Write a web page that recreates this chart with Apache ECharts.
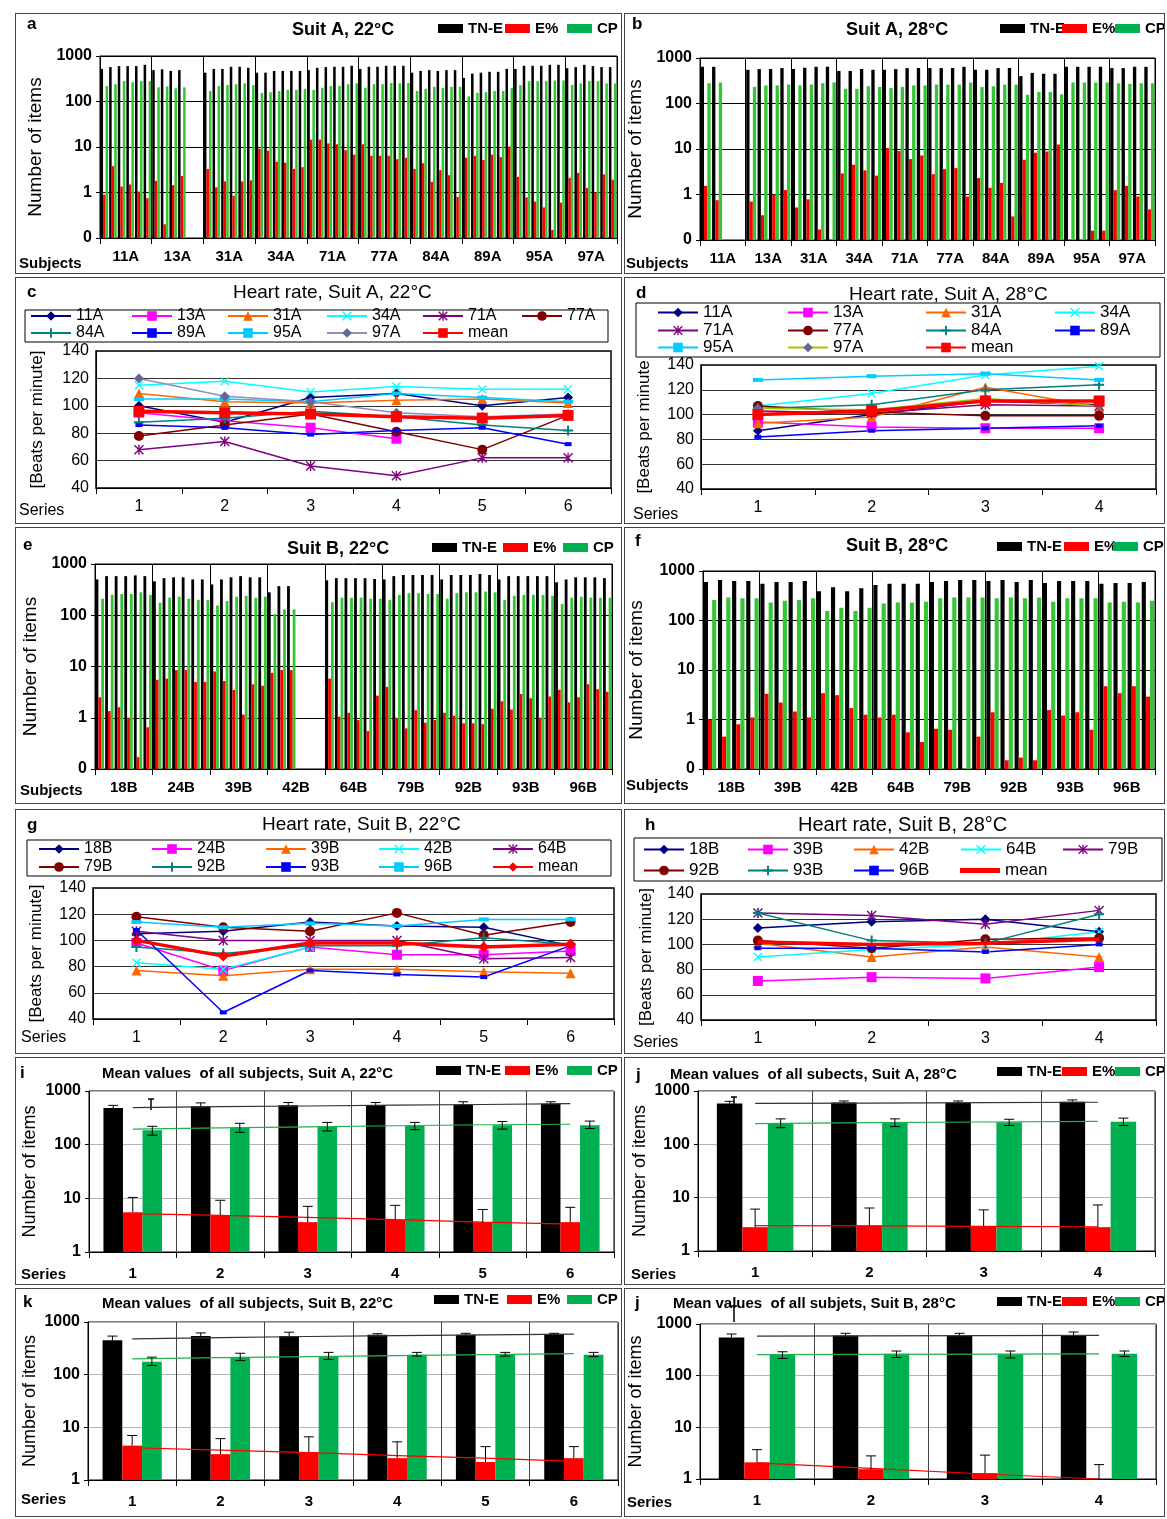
<!DOCTYPE html>
<html>
<head>
<meta charset="utf-8">
<title>Suit A / Suit B</title>
<script src="https://cdn.jsdelivr.net/npm/echarts@6/dist/echarts.min.js"></script>
<style>
  html, body { margin: 0; padding: 0; background: #fff; }
  body { position: relative; width: 1167px; height: 1519px; overflow: hidden; }
</style>
</head>
<body>
<script>
// ---------------- data ----------------
const subjA = ['11A', '13A', '31A', '34A', '71A', '77A', '84A', '89A', '95A', '97A'];
const subjB22 = ['18B', '24B', '39B', '42B', '64B', '79B', '92B', '93B', '96B'];
const subjB28 = ['18B', '39B', '42B', '64B', '79B', '92B', '93B', '96B'];

// a: Suit A 22°C, 6 sessions per subject
const aTne = [520,570,600,600,600,640, 490,510,470,490,null,null, 430,520,520,580,580,550, 430,430,470,470,470,470,
  490,550,570,580,580,610, 520,580,580,610,610,610, 430,470,490,470,490,490, 330,410,430,450,450,520,
  520,610,610,610,640,640, 540,570,640,600,570,570];
const aE = [0.9,3.8,1.35,1.5,1.05,0.75, 1.8,0.2,1.45,2.3,null,null, 3.3,1.3,1.75,0.85,1.75,1.85, 9.2,8.3,4.7,4.5,3.3,3.6,
  14.5,14.5,12,11.5,8.5,6.8, 11.5,6.4,6.4,6.4,5.4,5.8, 3.3,4.4,1.7,3.1,2.4,0.8, 5.8,6.4,5.2,6.8,6.0,10.2,
  2.2,0.78,0.63,0.47,0.15,0.6, 2.1,2.7,1.25,1.0,2.5,1.9];
const aCp = [220,240,280,265,280,280, 205,215,195,205,null,null, 170,220,230,240,250,230, 155,160,170,180,180,190,
  180,200,220,220,240,250, 200,240,240,255,250,255, 170,190,210,200,210,210, 130,155,160,170,170,200,
  230,280,280,280,290,290, 230,250,280,280,250,250];

// b: Suit A 28°C, 4 sessions per subject
const bTne = [640,640,null,null, 550,570,570,600, 570,610,640,640, 520,520,570,550, 550,570,600,600,
  600,600,600,640, 550,550,600,600, 400,470,450,450, 640,640,640,640, 600,600,640,640];
const bE = [1.55,0.75,null,null, 0.7,0.35,1.0,1.25, 0.52,0.78,0.17,null, 2.9,4.5,3.4,2.6, 10.5,9.0,6.0,7.2,
  2.8,3.6,3.8,0.9, 2.3,1.4,1.8,0.33, 5.8,8.3,8.8,12.5, null,null,0.16,0.16, 1.25,1.55,0.9,0.47];
const bCp = [280,290,null,null, 230,250,250,260, 250,260,280,290, 210,210,240,230, 220,230,250,250,
  260,260,260,290, 230,240,260,260, 155,180,180,160, 290,290,290,290, 280,270,280,280];

// e: Suit B 22°C, 6 sessions per subject
const eTne = [500,580,580,580,600,580, 460,530,550,550,500,500, 400,500,550,580,550,550, 280,370,370,null,null,null,
  480,530,530,530,530,510, 500,580,610,610,610,610, 500,610,610,610,640,610, 500,580,580,580,580,580,
  440,500,550,550,550,530];
const eE = [2.5,1.35,1.6,1.0,0.17,0.65, 5.5,5.8,8.5,8.5,5.0,5.0, 8.0,5.2,3.5,1.15,4.5,4.2, 7.5,8.5,8.5,null,null,null,
  5.8,1.05,1.25,0.9,0.55,2.7, 4.0,1.0,0.62,1.4,0.8,0.9, 1.25,1.1,0.78,0.78,0.75,1.5, 2.1,1.45,2.9,2.4,1.0,2.6,
  3.5,2.0,2.5,4.5,3.6,3.2];
const eCp = [210,250,260,260,280,250, 175,220,230,210,200,200, 155,190,230,240,220,230, 105,130,130,null,null,null,
  180,220,220,220,210,210, 200,250,270,270,260,260, 210,270,280,280,290,280, 200,240,250,250,250,240,
  165,220,230,220,220,220];

// f: Suit B 28°C, 4 sessions per subject
const fTne = [600,660,630,630, 550,600,600,630, 390,470,390,450, 520,550,550,550, 600,630,660,660,
  630,660,600,660, 570,630,630,630, 550,570,570,600];
const fE = [1.0,0.45,0.8,1.1, 3.3,2.2,1.45,1.1, 3.4,3.1,1.7,1.25, 1.1,1.25,0.55,0.35, 0.65,0.62,null,0.45,
  1.4,0.15,0.17,0.15, 1.55,1.2,1.4,0.62, 4.7,3.4,4.7,2.9];
const fCp = [260,290,280,280, 230,250,260,280, 155,180,155,180, 220,230,230,240, 280,290,290,290,
  280,290,280,290, 240,280,280,280, 230,240,230,250];

// c: heart rate, Suit A 22°C
const series6 = ['1', '2', '3', '4', '5', '6'];
const series4 = ['1', '2', '3', '4'];
const c11A = [100, 88, 106, 109, 100, 106];
const c13A = [95, 89, 84, 76, null, null];
const c31A = [109, 103, 102, 104, 105, 102];
const c34A = [115, 118, 110, 114, 112, 112];
const c71A = [68, 74, 56, 49, 62, 62];
const c77A = [78, 86, 94, 81, 68, 93];
const c84A = [88, 91, 96, 92, 86, 82];
const c89A = [86, 84, 79, 82, 84, 72];
const c95A = [105, 105, 103, 109, 106, 103];
const c97A = [120, 107, 103, 95, 92, 94];
const cMean = [96, 95, 94, 92, 91, 93];

// d: heart rate, Suit A 28°C
const d11A = [87, 100, 111, 108];
const d13A = [94, 90, 89, 89];
const d31A = [93, 98, 122, 106];
const d34A = [107, 117, 132, 139];
const d71A = [103, 101, 108, 107];
const d77A = [107, 102, 99, 99];
const d84A = [105, 108, 120, 124];
const d89A = [82, 87, 89, 91];
const d95A = [128, 131, 133, 128];
const d97A = [105, 104, 113, 107];
const dMean = [100, 103, 111, 111];

// g: heart rate, Suit B 22°C
const g18B = [105, 107, 114, 111, 110, 96];
const g24B = [98, 77, 95, 89, 89, 92];
const g39B = [77, 73, 78, 78, 76, 75];
const g42B = [83, 78, 95, null, null, null];
const g64B = [107, 100, 100, 100, 86, 87];
const g79B = [118, 110, 107, 121, 104, 114];
const g92B = [95, 90, 96, 96, 102, 97];
const g93B = [108, 45, 77, 74, 72, 96];
const g96B = [114, 110, 113, 111, 116, 116];
const gMean = [100, 88, 98, 98, 95, 97];

// h: heart rate, Suit B 28°C
const h18B = [113, 118, 120, 110];
const h39B = [71, 74, 73, 82];
const h42B = [101, 90, 98, 90];
const h64B = [90, 96, 100, 110];
const h79B = [125, 123, 116, 127];
const h92B = [103, 97, 104, 105];
const h93B = [125, 103, 101, 124];
const h96B = [97, 97, 94, 100];
const hMean = [102, 100, 101, 104];

// i: means, Suit A 22°C
const iTn = [480, 520, 540, 540, 560, 580], iTnHi = [540, 600, 610, 610, 630, 630];
const iE = [5.5, 4.8, 3.6, 4.0, 3.6, 3.6], iEHi = [10.4, 9.2, 7.1, 7.4, 6.2, 6.8];
const iCp = [185, 210, 215, 225, 230, 230], iCpHi = [220, 250, 260, 260, 270, 275], iCpLo = [150, 170, 180, 190, 195, 200];
const iTnTrend = [490, 510, 525, 545, 560, 580], iETrend = [5.2, 4.8, 4.4, 4.0, 3.6, 3.3], iCpTrend = [195, 205, 215, 225, 235, 240];

// j: means, Suit A 28°C
const jTn = [580, 610, 600, 630], jTnHi = [640, 650, 650, 680];
const jE = [2.8, 3.0, 2.9, 2.8], jEHi = [6.1, 6.4, 5.9, 7.3];
const jCp = [250, 260, 260, 265], jCpHi = [300, 300, 295, 310], jCpLo = [205, 215, 225, 225];
const jTnTrend = [585, 595, 605, 615], jETrend = [3.0, 2.95, 2.9, 2.85], jCpTrend = [245, 255, 262, 270];

// k: means, Suit B 22°C
const kTn = [450, 540, 540, 570, 570, 590], kTnHi = [540, 620, 640, 600, 610, 610];
const kE = [4.5, 3.1, 3.4, 2.6, 2.2, 2.6], kEHi = [7.0, 6.1, 6.6, 5.3, 4.3, 4.3];
const kCp = [175, 215, 225, 240, 245, 240], kCpHi = [215, 255, 265, 265, 265, 265], kCpLo = [150, 185, 195, 225, 225, 220];
const kTnTrend = [480, 505, 530, 550, 570, 590], kETrend = [4.1, 3.7, 3.3, 2.9, 2.6, 2.25], kCpTrend = [200, 210, 220, 230, 240, 250];

// l: means, Suit B 28°C
const lTn = [550, 600, 600, 600], lTnHi = [640, 660, 660, 700];
const lE = [2.1, 1.55, 1.3, 1.0], lEHi = [3.7, 2.8, 2.9, 1.9];
const lCp = [255, 265, 260, 265], lCpHi = [290, 300, 300, 300], lCpLo = [215, 225, 220, 235];
const lTnTrend = [580, 590, 595, 600], lETrend = [2.05, 1.6, 1.25, 1.0], lCpTrend = [255, 258, 262, 265];

// ---------------- layout (page px) ----------------
const FONT = "'Liberation Sans', Arial, sans-serif";
const GREEN = '#00B050';
const LIGHT_GREEN = '#36C536';
const BOX = {
  a: [15, 13, 607, 261], b: [624, 13, 541, 261],
  c: [15, 277, 607, 247], d: [624, 277, 541, 247],
  e: [15, 527, 607, 277], f: [624, 527, 541, 277],
  g: [15, 809, 607, 245], h: [624, 809, 541, 245],
  i: [15, 1057, 607, 228], j: [624, 1057, 541, 228],
  k: [15, 1288, 607, 229], l: [624, 1288, 541, 229]
};
// plot area: x0, x1, y0, y1
const PLOT = {
  a: [100, 617, 56, 238], b: [700, 1155, 58, 240],
  c: [96, 611, 351, 488], d: [701, 1156, 365, 489],
  e: [95, 612, 564, 769], f: [703, 1155, 571, 769],
  g: [93, 614, 888, 1019], h: [701, 1156, 894, 1020],
  i: [89, 614, 1091, 1252], j: [698, 1155, 1091, 1251],
  k: [88, 618, 1322, 1480], l: [700, 1156, 1324, 1479]
};

function mk(key) {
  const b = BOX[key];
  const el = document.createElement('div');
  el.style.cssText = 'position:absolute;left:' + b[0] + 'px;top:' + b[1] + 'px;width:' + b[2] + 'px;height:' + b[3] +
    'px;border:1px solid #444;box-sizing:border-box;';
  document.body.appendChild(el);
  return echarts.init(el);
}
function gridOf(key) {
  const b = BOX[key], p = PLOT[key];
  return { left: p[0] - b[0] - 1, top: p[2] - b[1] - 1, width: p[1] - p[0], height: p[3] - p[2],
    outerBoundsMode: 'none', containLabel: false };
}
// text at page coords (left edge, vertical centre)
function T(key, x, y, s, size, weight) {
  const b = BOX[key];
  return { type: 'text', x: x - b[0] - 1, y: y - b[1] - 1, silent: true,
    style: { text: s, fontSize: size, fontWeight: weight || 'normal', fontFamily: FONT, fill: '#000',
      verticalAlign: 'middle', align: 'left' } };
}
// vertical text, centred on page coords
function V(key, x, y, s, size) {
  const b = BOX[key];
  return { type: 'text', x: x - b[0] - 1, y: y - b[1] - 1, rotation: Math.PI / 2, silent: true,
    style: { text: s, fontSize: size, fontFamily: FONT, fill: '#000', verticalAlign: 'middle', align: 'center' } };
}
function R(key, x0, y0, x1, y1) {
  const b = BOX[key];
  return { type: 'rect', silent: true, z: -1,
    shape: { x: x0 - b[0] - 1, y: y0 - b[1] - 1, width: x1 - x0, height: y1 - y0 },
    style: { fill: 'none', stroke: '#000', lineWidth: 1 } };
}
// small stray error-bar mark seen in the mean panels
function I(key, x, y0, y1) {
  const b = BOX[key], st = { stroke: '#000', lineWidth: 1.5 };
  return { type: 'group', silent: true, children: [
    { type: 'line', shape: { x1: x - b[0] - 1, y1: y0 - b[1] - 1, x2: x - b[0] - 1, y2: y1 - b[1] - 1 }, style: st },
    { type: 'line', shape: { x1: x - b[0] - 4, y1: y0 - b[1] - 1, x2: x - b[0] + 2, y2: y0 - b[1] - 1 }, style: st }
  ] };
}
function barLegend(key, xs, yc) {
  const b = BOX[key];
  return ['TN-E', 'E%', 'CP'].map((n, i) => ({
    data: [n], left: xs[i] - b[0] - 1, top: yc - b[1] - 10, padding: 0, itemGap: 0,
    icon: 'rect', itemWidth: 25, itemHeight: 9,
    itemStyle: n === 'CP' ? { color: GREEN } : {},
    textStyle: { fontSize: 15, fontWeight: 'bold', color: '#000', fontFamily: FONT }
  }));
}
function logAxis(min, gap, nameSize) {
  return {
    type: 'log', logBase: 10, min: min, max: 1000, startValue: min,
    name: gap ? 'Number of items' : '', nameLocation: 'middle', nameGap: gap,
    nameTextStyle: { fontSize: nameSize, color: '#000', fontFamily: FONT },
    axisLine: { show: true, lineStyle: { color: '#000' } },
    axisTick: { show: true, length: 4, lineStyle: { color: '#000' } },
    axisLabel: { fontSize: 16, fontWeight: 'bold', color: '#000', fontFamily: FONT, margin: 8,
      formatter: v => (v < 0.5 ? '0' : String(Math.round(v))) },
    splitLine: { show: true, lineStyle: { color: min < 1 ? '#000' : '#b4b4b4' } }
  };
}

// ---------------- bar panels (per subject sessions) ----------------
function barPanel(key, o) {
  const ch = mk(key);
  const sessions = o.tne.map((_, i) => 's' + i);
  const bar = (name, data, color) => ({ type: 'bar', name: name, data: data, itemStyle: { color: color },
    barGap: '0%', barCategoryGap: '12%', xAxisIndex: 0 });
  ch.setOption({
    animation: false,
    grid: Object.assign(gridOf(key), { show: true, borderColor: '#000', borderWidth: 1 }),
    legend: barLegend(key, o.legX, o.legY),
    xAxis: [
      { type: 'category', data: sessions, position: 'bottom', axisLine: { lineStyle: { color: '#000' } },
        axisTick: { show: false }, axisLabel: { show: false } },
      { type: 'category', data: o.subjects, position: 'bottom', axisLine: { show: false },
        axisTick: { show: true, length: 6, interval: 0, lineStyle: { color: '#000' } },
        axisLabel: { interval: 0, fontSize: 15, fontWeight: 'bold', color: '#000', fontFamily: FONT, margin: 11 },
        splitLine: { show: true, interval: 0, lineStyle: { color: '#000' } } }
    ],
    yAxis: logAxis(0.1, o.nameGap, 19),
    series: [bar('TN-E', o.tne, '#000'), bar('E%', o.e, '#ff0000'), bar('CP', o.cp, LIGHT_GREEN)],
    graphic: o.texts
  });
}

barPanel('a', { subjects: subjA, tne: aTne, e: aE, cp: aCp, legX: [438, 505, 567], legY: 30, nameGap: 52,
  texts: [T('a', 27, 24, 'a', 17, 'bold'), T('a', 292, 30, 'Suit A, 22°C', 18, 'bold'), T('a', 19, 264, 'Subjects', 15, 'bold')] });
barPanel('b', { subjects: subjA, tne: bTne, e: bE, cp: bCp, legX: [1000, 1062, 1115], legY: 30, nameGap: 53,
  texts: [T('b', 632, 24, 'b', 17, 'bold'), T('b', 846, 30, 'Suit A, 28°C', 18, 'bold'), T('b', 626, 264, 'Subjects', 15, 'bold')] });
barPanel('e', { subjects: subjB22, tne: eTne, e: eE, cp: eCp, legX: [432, 503, 563], legY: 549, nameGap: 55,
  texts: [T('e', 23, 545, 'e', 17, 'bold'), T('e', 287, 549, 'Suit B, 22°C', 18, 'bold'), T('e', 20, 791, 'Subjects', 15, 'bold')] });
barPanel('f', { subjects: subjB28, tne: fTne, e: fE, cp: fCp, legX: [997, 1064, 1113], legY: 548, nameGap: 57,
  texts: [T('f', 635, 541, 'f', 17, 'bold'), T('f', 846, 546, 'Suit B, 28°C', 18, 'bold'), T('f', 626, 786, 'Subjects', 15, 'bold')] });

// ---------------- heart-rate line panels ----------------
const X_SYM = 'path://M1,0L5,4L9,0L10,1L6,5L10,9L9,10L5,6L1,10L0,9L4,5L0,1Z';
const PLUS_SYM = 'path://M4,0H6V4H10V6H6V10H4V6H0V4H4Z';
const STAR_SYM = 'path://M1,0L5,4L9,0L10,1L6,5L10,9L9,10L5,6L1,10L0,9L4,5L0,1Z M4.3,0H5.7V10H4.3Z';
const ST = {
  navy: { color: '#000080', symbol: 'diamond', size: 10 },
  magenta: { color: '#FF00FF', symbol: 'rect', size: 10 },
  orange: { color: '#FF6600', symbol: 'triangle', size: 10 },
  cyan: { color: '#00FFFF', symbol: X_SYM, size: 9 },
  purple: { color: '#800080', symbol: STAR_SYM, size: 10 },
  brown: { color: '#800000', symbol: 'circle', size: 10 },
  teal: { color: '#008080', symbol: PLUS_SYM, size: 10 },
  blue: { color: '#0000FF', symbol: 'rect', size: [7, 4] },
  sky: { color: '#00CCFF', symbol: 'rect', size: [10, 4] },
  grey: { color: '#666699', line: '#8E8EBE', symbol: 'diamond', size: 10 },
  greyYg: { color: '#666699', line: '#99CC00', symbol: 'diamond', size: 10 },
  meanSq: { color: '#FF0000', symbol: 'rect', size: 11, width: 3.5 },
  meanDia: { color: '#FF0000', symbol: 'diamond', size: 11, width: 3.5 },
  meanNone: { color: '#FF0000', symbol: 'none', size: 0, width: 3.5 }
};

function linePanel(key, o) {
  const ch = mk(key);
  const b = BOX[key];
  const legends = [];
  o.order.forEach((row, r) => row.forEach((name, c) => {
    const item = { data: [name], left: o.cols[c] - b[0] - 1, top: o.rows[r] - b[1] - 10, padding: 0, itemGap: 0,
      itemWidth: 40, itemHeight: 12, textStyle: { fontSize: o.fs, color: '#000', fontFamily: FONT } };
    if (name === 'mean' && o.meanBar) { item.icon = 'path://M0,0H40V5H0Z'; item.itemHeight = 5; }
    legends.push(item);
  }));
  ch.setOption({
    animation: false,
    grid: Object.assign(gridOf(key), { show: true, borderColor: '#000', borderWidth: 1.5 }),
    legend: legends,
    xAxis: { type: 'category', data: o.cats, boundaryGap: true,
      axisLine: { lineStyle: { color: '#000' } },
      axisTick: { show: true, length: 6, lineStyle: { color: '#000' } },
      axisLabel: { fontSize: 16, color: '#000', fontFamily: FONT, margin: 11 } },
    yAxis: { type: 'value', min: 40, max: 140, interval: 20,
      name: o.yName, nameLocation: 'middle', nameGap: o.nameGap,
      nameTextStyle: { fontSize: 17, color: '#000', fontFamily: FONT },
      axisLine: { show: true, lineStyle: { color: '#000' } }, axisTick: { show: false },
      axisLabel: { fontSize: 16, color: '#000', fontFamily: FONT, margin: 7 },
      splitLine: { show: true, lineStyle: { color: '#333' } } },
    series: o.lines.map(s => ({
      type: 'line', name: s[0], data: s[1], symbol: s[2].symbol, symbolSize: s[2].size,
      showSymbol: s[2].symbol !== 'none', connectNulls: false,
      lineStyle: { color: s[2].line || s[2].color, width: s[2].width || 1.5 },
      itemStyle: { color: s[2].color }, z: s[2].width ? 6 : 3
    })),
    graphic: o.texts
  });
}

linePanel('c', {
  cats: series6, fs: 16, nameGap: 50, yName: '[Beats per minute]',
  cols: [30, 131, 227, 326, 422, 521], rows: [317, 334],
  order: [['11A', '13A', '31A', '34A', '71A', '77A'], ['84A', '89A', '95A', '97A', 'mean']],
  lines: [['11A', c11A, ST.navy], ['13A', c13A, ST.magenta], ['31A', c31A, ST.orange], ['34A', c34A, ST.cyan],
    ['71A', c71A, ST.purple], ['77A', c77A, ST.brown], ['84A', c84A, ST.teal], ['89A', c89A, ST.blue],
    ['95A', c95A, ST.sky], ['97A', c97A, ST.grey], ['mean', cMean, ST.meanSq]],
  texts: [R('c', 25, 310, 608, 342), T('c', 27, 292, 'c', 17, 'bold'),
    T('c', 233, 293, 'Heart rate, Suit A, 22°C', 19), T('c', 19, 511, 'Series', 16)]
});
linePanel('d', {
  cats: series4, fs: 17, nameGap: 48, yName: '[Beats per minute',
  cols: [657, 787, 925, 1054], rows: [313, 331, 348],
  order: [['11A', '13A', '31A', '34A'], ['71A', '77A', '84A', '89A'], ['95A', '97A', 'mean']],
  lines: [['11A', d11A, ST.navy], ['13A', d13A, ST.magenta], ['31A', d31A, ST.orange], ['34A', d34A, ST.cyan],
    ['71A', d71A, ST.purple], ['77A', d77A, ST.brown], ['84A', d84A, ST.teal], ['89A', d89A, ST.blue],
    ['95A', d95A, ST.sky], ['97A', d97A, ST.greyYg], ['mean', dMean, ST.meanSq]],
  texts: [R('d', 636, 303, 1160, 357), T('d', 636, 293, 'd', 17, 'bold'),
    T('d', 849, 295, 'Heart rate, Suit A, 28°C', 19), T('d', 633, 515, 'Series', 16)]
});
linePanel('g', {
  cats: series6, fs: 16, nameGap: 48, yName: '[Beats per minute]',
  cols: [38, 151, 265, 378, 492], rows: [850, 868],
  order: [['18B', '24B', '39B', '42B', '64B'], ['79B', '92B', '93B', '96B', 'mean']],
  lines: [['18B', g18B, ST.navy], ['24B', g24B, ST.magenta], ['39B', g39B, ST.orange], ['42B', g42B, ST.cyan],
    ['64B', g64B, ST.purple], ['79B', g79B, ST.brown], ['92B', g92B, ST.teal], ['93B', g93B, ST.blue],
    ['96B', g96B, ST.sky], ['mean', gMean, ST.meanDia]],
  texts: [R('g', 27, 840, 611, 876), T('g', 27, 825, 'g', 17, 'bold'),
    T('g', 262, 825, 'Heart rate, Suit B, 22°C', 19), T('g', 21, 1038, 'Series', 16)]
});
linePanel('h', {
  cats: series4, fs: 17, nameGap: 46, yName: '[Beats per minute]', meanBar: true,
  cols: [643, 747, 853, 960, 1062], rows: [850, 871],
  order: [['18B', '39B', '42B', '64B', '79B'], ['92B', '93B', '96B', 'mean']],
  lines: [['18B', h18B, ST.navy], ['39B', h39B, ST.magenta], ['42B', h42B, ST.orange], ['64B', h64B, ST.cyan],
    ['79B', h79B, ST.purple], ['92B', h92B, ST.brown], ['93B', h93B, ST.teal], ['96B', h96B, ST.blue],
    ['mean', hMean, ST.meanNone]],
  texts: [R('h', 634, 838, 1162, 881), T('h', 645, 825, 'h', 17, 'bold'),
    T('h', 798, 825, 'Heart rate, Suit B, 28°C', 20), T('h', 633, 1043, 'Series', 16)]
});

// ---------------- mean panels with error bars ----------------
const GAP = 0.33;
function errSeries(hi, lo, offset, lowerCap) {
  return {
    type: 'custom', silent: true, z: 5,
    data: hi.map((h, i) => [i, h, lo[i]]),
    renderItem: function (params, api) {
      const top = api.coord([api.value(0), api.value(1)]);
      const bot = api.coord([api.value(0), api.value(2)]);
      const band = api.coord([1, 10])[0] - api.coord([0, 10])[0];
      const bw = band * (1 - GAP) / 3;
      const x = top[0] + offset * bw;
      const st = { stroke: '#000', lineWidth: 1 };
      const kids = [
        { type: 'line', shape: { x1: x, y1: top[1], x2: x, y2: bot[1] }, style: st },
        { type: 'line', shape: { x1: x - 5, y1: top[1], x2: x + 5, y2: top[1] }, style: st }
      ];
      if (lowerCap) kids.push({ type: 'line', shape: { x1: x - 5, y1: bot[1], x2: x + 5, y2: bot[1] }, style: st });
      return { type: 'group', children: kids };
    }
  };
}
function meanPanel(key, o) {
  const ch = mk(key);
  const p = PLOT[key];
  const cats = o.tn.map((_, i) => String(i + 1));
  const bar = (name, data, color) => ({ type: 'bar', name: name, data: data, itemStyle: { color: color },
    barGap: '0%', barCategoryGap: '33%' });
  const trend = (data, color) => ({ type: 'line', data: data, symbol: 'none', silent: true, z: 4,
    lineStyle: { color: color, width: 1.2 } });
  ch.setOption({
    animation: false,
    grid: Object.assign(gridOf(key), { show: true, borderColor: '#000', borderWidth: 1 }),
    legend: barLegend(key, o.legX, o.legY),
    xAxis: { type: 'category', data: cats,
      axisLine: { lineStyle: { color: '#000' } },
      axisTick: { show: true, length: 6, lineStyle: { color: '#000' } },
      axisLabel: { fontSize: 15, fontWeight: 'bold', color: '#000', fontFamily: FONT, margin: 14 },
      splitLine: { show: true, lineStyle: { color: '#444' } } },
    yAxis: logAxis(1, 0, 18),
    series: [
      bar('TN-E', o.tn, '#000'), bar('E%', o.e, '#ff0000'), bar('CP', o.cp, GREEN),
      errSeries(o.tnHi, o.tn, -1, false), errSeries(o.eHi, o.e, 0, false), errSeries(o.cpHi, o.cpLo, 1, true),
      trend(o.tnT, '#333'), trend(o.cpT, '#22B14C'), trend(o.eT, '#ff0000')
    ],
    graphic: o.texts.concat([V(key, o.nameX, (p[2] + p[3]) / 2, 'Number of items', 18)])
  });
}

meanPanel('i', { tn: iTn, tnHi: iTnHi, e: iE, eHi: iEHi, cp: iCp, cpHi: iCpHi, cpLo: iCpLo,
  tnT: iTnTrend, eT: iETrend, cpT: iCpTrend, legX: [436, 505, 567], legY: 1072, nameX: 30,
  texts: [T('i', 20, 1073, 'i', 17, 'bold'), T('i', 102, 1074, 'Mean values  of all subjects, Suit A, 22°C', 15, 'bold'),
    T('i', 21, 1275, 'Series', 15, 'bold'), I('i', 151, 1099, 1110)] });
meanPanel('j', { tn: jTn, tnHi: jTnHi, e: jE, eHi: jEHi, cp: jCp, cpHi: jCpHi, cpLo: jCpLo,
  tnT: jTnTrend, eT: jETrend, cpT: jCpTrend, legX: [997, 1062, 1115], legY: 1073, nameX: 640,
  texts: [T('j', 636, 1075, 'j', 17, 'bold'), T('j', 670, 1075, 'Mean values  of all subects, Suit A, 28°C', 15, 'bold'),
    T('j', 631, 1275, 'Series', 15, 'bold'), I('j', 734, 1097, 1104)] });
meanPanel('k', { tn: kTn, tnHi: kTnHi, e: kE, eHi: kEHi, cp: kCp, cpHi: kCpHi, cpLo: kCpLo,
  tnT: kTnTrend, eT: kETrend, cpT: kCpTrend, legX: [434, 507, 567], legY: 1301, nameX: 30,
  texts: [T('k', 23, 1302, 'k', 17, 'bold'), T('k', 102, 1304, 'Mean values  of all subjects, Suit B, 22°C', 15, 'bold'),
    T('k', 21, 1500, 'Series', 15, 'bold')] });
meanPanel('l', { tn: lTn, tnHi: lTnHi, e: lE, eHi: lEHi, cp: lCp, cpHi: lCpHi, cpLo: lCpLo,
  tnT: lTnTrend, eT: lETrend, cpT: lCpTrend, legX: [997, 1062, 1115], legY: 1303, nameX: 636,
  texts: [T('l', 635, 1303, 'j', 17, 'bold'), T('l', 673, 1304, 'Mean values  of all subjets, Suit B, 28°C', 15, 'bold'),
    T('l', 627, 1503, 'Series', 15, 'bold'), I('l', 734, 1306, 1322)] });
</script>
</body>
</html>
